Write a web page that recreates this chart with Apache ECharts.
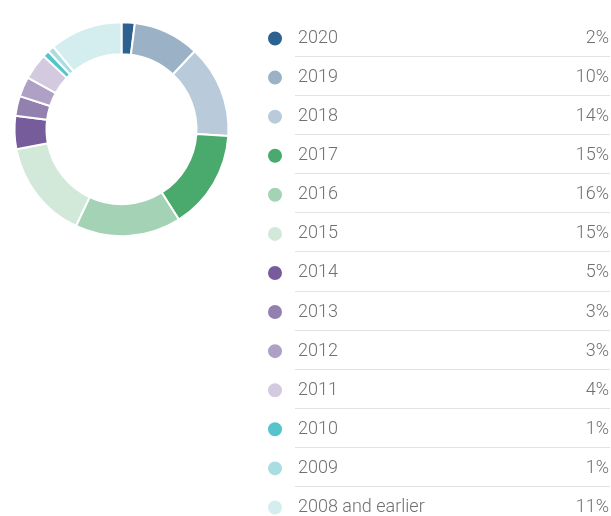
<!DOCTYPE html>
<html>
<head>
<meta charset="utf-8">
<style>
	html, body { margin: 0; padding: 0; background: #fff; }
	#chart-div { width: 611px; height: 516px; }
</style>
<script src="https://cdn.jsdelivr.net/npm/echarts@6/dist/echarts.min.js"></script>
</head>
<body>
<div id="chart-div"></div>
<script>
// categories, shares (%) and colours
var g_years = ["2020", "2019", "2018", "2017", "2016", "2015", "2014",
	"2013", "2012", "2011", "2010", "2009", "2008 and earlier"];
var g_shares = [2, 10, 14, 15, 16, 15, 5, 3, 3, 4, 1, 1, 11];
var g_colors = ["#2d6290", "#9bb2c6", "#b9cbda", "#4aa96c", "#a4d2b4",
	"#d2e9da", "#775c9b", "#9280af", "#afa0c6", "#d3cadf", "#55c4cc",
	"#aadde2", "#d4eef0"];

// legend row pitch, first row centre
var ROW_H = 39.08;
var ROW_Y0 = 37.5;
var ITEM_H = 18;
var DOT = 16;

var chart = echarts.init(document.getElementById("chart-div"));

// separator lines between legend rows
var lines = [];
for (var i = 0; i < g_years.length; i++) {
	var y = Math.round(ROW_Y0 + ROW_H / 2 + i * ROW_H) - 0.5;
	lines.push({
		type: "line",
		shape: { x1: 295, y1: y, x2: 610, y2: y },
		style: { stroke: "#e2e2e2", lineWidth: 1 },
		silent: true
	});
}

var option = {
	color: g_colors,
	graphic: lines,
	legend: {
		orient: "vertical",
		left: 266,
		top: ROW_Y0 - ITEM_H / 2 + 1,
		height: 800,
		padding: 0,
		itemWidth: DOT,
		itemHeight: DOT,
		itemGap: ROW_H - ITEM_H,
		icon: "circle",
		selectedMode: false,
		data: g_years,
		formatter: function (name) {
			var k = g_years.indexOf(name);
			return "{n|" + name + "}{v|" + g_shares[k] + "%}";
		},
		textStyle: {
			padding: [0, 0, 0, 10],
			rich: {
				n: {
					width: 251,
					fontFamily: "Roboto",
					fontWeight: 300,
					fontSize: 18,
					color: "#707070"
				},
				v: {
					width: 60,
					align: "right",
					fontFamily: "Roboto",
					fontWeight: 300,
					fontSize: 18,
					color: "#707070"
				}
			}
		}
	},
	series: [
		{
			type: "pie",
			center: [121.5, 129.2],
			radius: [75, 107],
			startAngle: 90,
			clockwise: true,
			avoidLabelOverlap: false,
			label: { show: false },
			labelLine: { show: false },
			emphasis: { disabled: true },
			itemStyle: { borderColor: "#fff", borderWidth: 2 },
			data: g_years.map(function (y, i) {
				return { name: y, value: g_shares[i] };
			})
		}
	]
};

chart.setOption(option);
window.addEventListener("resize", chart.resize);
</script>
</body>
</html>
